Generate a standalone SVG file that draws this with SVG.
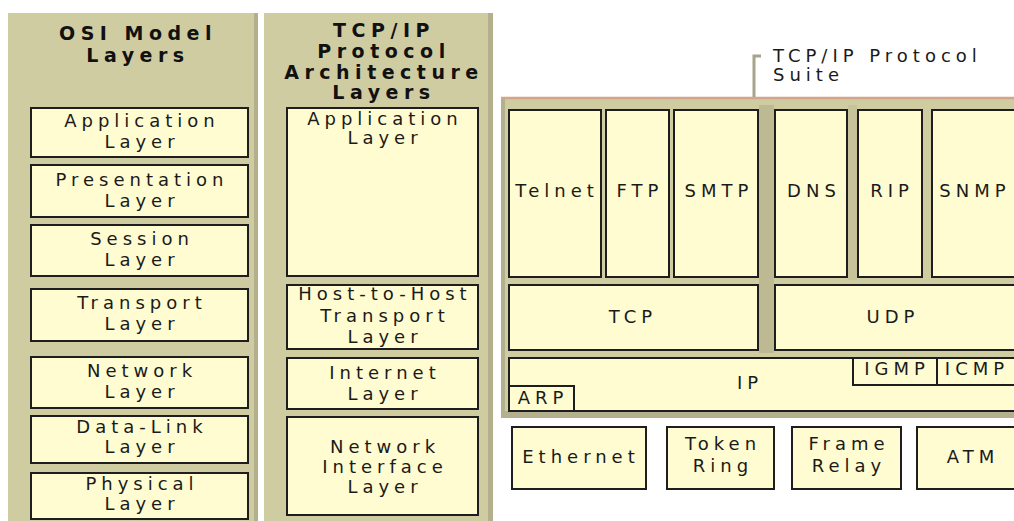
<svg xmlns="http://www.w3.org/2000/svg" width="1014" height="521" viewBox="0 0 1014 521">
<style>
  .panel { fill: #cfcca2; }
  .edge { fill: #b4b08e; }
  .box { fill: #fefcd0; stroke: #1e1e1e; stroke-width: 2; }
  .t { font-family: "DejaVu Sans", Verdana, sans-serif; font-size: 18px; letter-spacing: 5px; fill: #1a1a1a; text-anchor: middle; }
  .ts { font-family: "DejaVu Sans", Verdana, sans-serif; font-size: 18px; letter-spacing: 5px; fill: #1a1a1a; text-anchor: middle; }
  .h { font-family: "DejaVu Sans", Verdana, sans-serif; font-size: 19px; font-weight: bold; letter-spacing: 5.5px; fill: #111; text-anchor: middle; }
  .lbl { font-family: "DejaVu Sans", Verdana, sans-serif; font-size: 18px; letter-spacing: 5px; fill: #1a1a1a; }
</style>
<rect width="1014" height="521" fill="#ffffff"/>

<!-- Panels -->
<g id="osi-panel">
  <rect class="panel" x="8" y="13" width="250" height="508"/>
  <rect class="edge" x="254" y="13" width="4" height="508"/>
  <text class="h" x="138" y="40">OSI Model</text>
  <text class="h" x="138" y="62">Layers</text>
</g>
<g id="tcpip-panel">
  <rect class="panel" x="264" y="13" width="229" height="508"/>
  <rect class="edge" x="488" y="13" width="5" height="508"/>
  <text class="h" x="384" y="37">TCP/IP</text>
  <text class="h" x="384" y="58">Protocol</text>
  <text class="h" x="384" y="79">Architecture</text>
  <text class="h" x="384" y="99">Layers</text>
</g>
<g id="suite-panel">
  <rect class="panel" x="501" y="97" width="513" height="321"/>
  <rect class="edge" x="501" y="97" width="4" height="321"/>
  <rect x="759" y="105" width="15" height="248" fill="#bdb993"/>
  <rect x="848" y="105" width="9" height="175" fill="#c6c39b"/>
  <rect class="edge" x="501" y="411" width="513" height="7"/>
  <line x1="501" y1="98" x2="1014" y2="98" stroke="#d4a58a" stroke-width="2.5"/>
  <text class="lbl" x="773" y="62">TCP/IP Protocol</text>
  <text class="lbl" x="773" y="81">Suite</text>
</g>

<!-- Connectors -->
<g id="connectors">
  <polyline points="754,97 754,56 761,56" fill="none" stroke="#a8a48c" stroke-width="3"/>
</g>

<!-- OSI layers -->
<g id="osi-application"><rect class="box" x="31" y="108" width="217" height="49"/><text class="t" x="142" y="127">Application</text><text class="t" x="142" y="148">Layer</text></g>
<g id="osi-presentation"><rect class="box" x="31" y="165" width="217" height="52"/><text class="t" x="142" y="186">Presentation</text><text class="t" x="142" y="207">Layer</text></g>
<g id="osi-session"><rect class="box" x="31" y="225" width="217" height="51"/><text class="t" x="142" y="245">Session</text><text class="t" x="142" y="266">Layer</text></g>
<g id="osi-transport"><rect class="box" x="31" y="289" width="217" height="52"/><text class="t" x="142" y="309">Transport</text><text class="t" x="142" y="330">Layer</text></g>
<g id="osi-network"><rect class="box" x="31" y="357" width="217" height="51"/><text class="t" x="142" y="377">Network</text><text class="t" x="142" y="398">Layer</text></g>
<g id="osi-datalink"><rect class="box" x="31" y="416" width="217" height="47"/><text class="t" x="142" y="433">Data-Link</text><text class="t" x="142" y="453">Layer</text></g>
<g id="osi-physical"><rect class="box" x="31" y="473" width="217" height="46"/><text class="t" x="142" y="490">Physical</text><text class="t" x="142" y="510">Layer</text></g>

<!-- TCP/IP architecture layers -->
<g id="arch-application"><rect class="box" x="287" y="108" width="191" height="168"/><text class="t" x="385" y="125">Application</text><text class="t" x="385" y="144">Layer</text></g>
<g id="arch-transport"><rect class="box" x="287" y="285" width="191" height="64"/><text class="t" x="385" y="300">Host-to-Host</text><text class="t" x="385" y="322">Transport</text><text class="t" x="385" y="343">Layer</text></g>
<g id="arch-internet"><rect class="box" x="287" y="358" width="191" height="51"/><text class="t" x="385" y="379">Internet</text><text class="t" x="385" y="400">Layer</text></g>
<g id="arch-netif"><rect class="box" x="287" y="417" width="191" height="98"/><text class="t" x="385" y="453">Network</text><text class="t" x="385" y="473">Interface</text><text class="t" x="385" y="493">Layer</text></g>

<!-- Application protocols -->
<g id="telnet"><rect class="box" x="509" y="110" width="92" height="167"/><text class="ts" x="557" y="197">Telnet</text></g>
<g id="ftp"><rect class="box" x="606" y="110" width="63" height="167"/><text class="ts" x="640" y="197">FTP</text></g>
<g id="smtp"><rect class="box" x="674" y="110" width="84" height="167"/><text class="ts" x="719" y="197">SMTP</text></g>
<g id="dns"><rect class="box" x="775" y="110" width="72" height="167"/><text class="ts" x="814" y="197">DNS</text></g>
<g id="rip"><rect class="box" x="858" y="110" width="64" height="167"/><text class="ts" x="892" y="197">RIP</text></g>
<g id="snmp"><rect class="box" x="932" y="110" width="90" height="167"/><text class="ts" x="975" y="197">SNMP</text></g>

<!-- Transport protocols -->
<g id="tcp"><rect class="box" x="509" y="285" width="249" height="65"/><text class="ts" x="633" y="323">TCP</text></g>
<g id="udp"><rect class="box" x="775" y="285" width="247" height="65"/><text class="ts" x="893" y="323">UDP</text></g>

<!-- Internet protocols -->
<g id="ip"><rect class="box" x="509" y="358" width="513" height="53"/><text class="ts" x="750" y="389">IP</text></g>
<g id="arp"><rect class="box" x="509" y="386" width="65" height="25"/><text class="ts" x="543" y="404">ARP</text></g>
<g id="igmp"><rect class="box" x="853" y="358" width="84" height="27"/><text class="ts" x="897" y="375">IGMP</text></g>
<g id="icmp"><rect class="box" x="937" y="358" width="85" height="27"/><text class="ts" x="977" y="375">ICMP</text></g>

<!-- Network interface technologies -->
<g id="ethernet"><rect class="box" x="512" y="427" width="134" height="62"/><text class="ts" x="581" y="463">Ethernet</text></g>
<g id="token-ring"><rect class="box" x="667" y="427" width="107" height="62"/><text class="ts" x="723" y="450">Token</text><text class="ts" x="723" y="472">Ring</text></g>
<g id="frame-relay"><rect class="box" x="792" y="427" width="109" height="62"/><text class="ts" x="849" y="450">Frame</text><text class="ts" x="849" y="472">Relay</text></g>
<g id="atm"><rect class="box" x="917" y="427" width="105" height="62"/><text class="ts" x="973" y="463">ATM</text></g>
</svg>
